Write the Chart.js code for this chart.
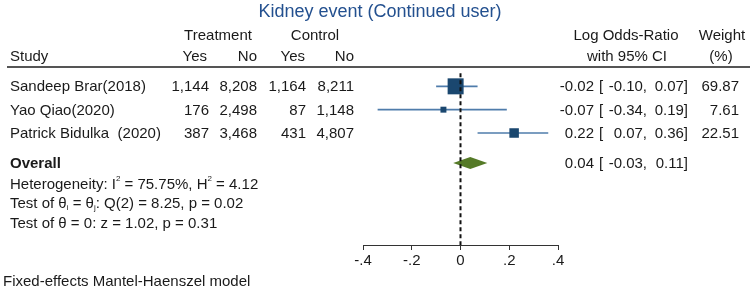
<!DOCTYPE html>
<html>
<head>
<meta charset="utf-8">
<script src="https://cdn.jsdelivr.net/npm/chart.js@4"></script>
<style>
  body{margin:0;background:#fff;}
  #wrap{width:754px;height:293px;position:relative;}
</style>
</head>
<body>
<div id="wrap"><canvas id="chart"></canvas></div>
<script>
// --- Daten ---
const studies = ["Sandeep Brar(2018)", "Yao Qiao(2020)", "Patrick Bidulka  (2020)"];
const treatYes = ["1,144", "176", "387"];
const treatNo = ["8,208", "2,498", "3,468"];
const ctrlYes = ["1,164", "87", "431"];
const ctrlNo = ["8,211", "1,148", "4,807"];
const estimates = [-0.02, -0.07, 0.22];
const lowerCI = [-0.10, -0.34, 0.07];
const upperCI = [0.07, 0.19, 0.36];
const weights = [69.87, 7.61, 22.51];
const overall = {est: 0.04, lo: -0.03, hi: 0.11};
const xTicks = [-0.4, -0.2, 0, 0.2, 0.4];
const xTickLabels = ["-.4", "-.2", "0", ".2", ".4"];

// Zeilen (in Zeileneinheiten der y-Achse)
const studyRows = [1, 2, 3];
const overallRow = 4.29;
const statRows = [5.22, 6.05, 6.88];

const FONT = "Liberation Sans, Arial, sans-serif";
const TXT = "#1a1a1a";

function fmt(v){ return v.toFixed(2); }

// rich text: [text, dy, size]
function drawRich(ctx, x, y, parts, size){
    let cx = x;
    for (const p of parts){
        const s = p[2] || size;
        ctx.font = `${s}px ${FONT}`;
        ctx.fillText(p[0], cx, y + (p[1] || 0));
        cx += ctx.measureText(p[0]).width;
    }
}

const tablePlugin = {
    id: "tablePlugin",
    beforeDatasetsDraw(chart){
        const {ctx, scales:{x, y}} = chart;
        // Overall-Raute
        const yc = y.getPixelForValue(overallRow);
        ctx.save();
        ctx.fillStyle = "#557a27";
        ctx.beginPath();
        ctx.moveTo(x.getPixelForValue(overall.lo), yc);
        ctx.lineTo(x.getPixelForValue(overall.est), yc - 6);
        ctx.lineTo(x.getPixelForValue(overall.hi), yc);
        ctx.lineTo(x.getPixelForValue(overall.est), yc + 6);
        ctx.closePath();
        ctx.fill();
        ctx.restore();
    },
    afterDraw(chart){
        const {ctx, scales:{y}} = chart;
        ctx.save();
        ctx.textBaseline = "middle";

        // Titel
        ctx.fillStyle = "#23508f";
        ctx.font = `18px ${FONT}`;
        ctx.textAlign = "center";
        ctx.fillText("Kidney event (Continued user)", 380, 12);

        // Kopfzeilen
        ctx.fillStyle = TXT;
        ctx.font = `15px ${FONT}`;
        ctx.fillText("Treatment", 218, 36);
        ctx.fillText("Control", 315, 36);
        ctx.fillText("Log Odds-Ratio", 626, 36);
        ctx.fillText("Weight", 722, 36);
        ctx.fillText("with 95% CI", 627, 57);
        ctx.fillText("(%)", 721, 57);
        ctx.textAlign = "left";
        ctx.fillText("Study", 10, 57);
        ctx.textAlign = "right";
        ctx.fillText("Yes", 207, 57);
        ctx.fillText("No", 257, 57);
        ctx.fillText("Yes", 305, 57);
        ctx.fillText("No", 354, 57);

        // Trennlinie
        ctx.strokeStyle = "#555";
        ctx.lineWidth = 2;
        ctx.beginPath();
        ctx.moveTo(7, 67);
        ctx.lineTo(750, 67);
        ctx.stroke();

        // Studienzeilen
        const effectCols = (yy, est, lo, hi) => {
            ctx.textAlign = "right";
            ctx.fillText(fmt(est), 594, yy);
            ctx.textAlign = "left";
            ctx.fillText("[", 599, yy);
            ctx.textAlign = "right";
            ctx.fillText(fmt(lo) + ",", 647, yy);
            ctx.fillText(fmt(hi) + "]", 688, yy);
        };
        studies.forEach((s, i) => {
            const yy = y.getPixelForValue(studyRows[i]) + 1;
            ctx.textAlign = "left";
            ctx.fillText(s, 10, yy);
            ctx.textAlign = "right";
            ctx.fillText(treatYes[i], 209, yy);
            ctx.fillText(treatNo[i], 257, yy);
            ctx.fillText(ctrlYes[i], 306, yy);
            ctx.fillText(ctrlNo[i], 354, yy);
            effectCols(yy, estimates[i], lowerCI[i], upperCI[i]);
            ctx.textAlign = "right";
            ctx.fillText(weights[i].toFixed(2), 739, yy);
        });

        // Overall
        const yo = y.getPixelForValue(overallRow) + 1;
        ctx.textAlign = "left";
        ctx.font = `bold 15px ${FONT}`;
        ctx.fillText("Overall", 10, yo);
        ctx.font = `15px ${FONT}`;
        effectCols(yo, overall.est, overall.lo, overall.hi);

        // Statistiken
        ctx.textAlign = "left";
        drawRich(ctx, 10, y.getPixelForValue(statRows[0]), [
            ["Heterogeneity: I"], ["2", -6, 8], [" = 75.75%, H"], ["2", -6, 8], [" = 4.12"]
        ], 15);
        drawRich(ctx, 10, y.getPixelForValue(statRows[1]), [
            ["Test of θ"], ["i", 4, 8], [" = θ"], ["j", 4, 8], [": Q(2) = 8.25, p = 0.02"]
        ], 15);
        drawRich(ctx, 10, y.getPixelForValue(statRows[2]), [
            ["Test of θ = 0: z = 1.02, p = 0.31"]
        ], 15);

        ctx.font = `15px ${FONT}`;
        ctx.fillText("Fixed-effects Mantel-Haenszel model", 3, 282);
        ctx.restore();
    }
};

// --- Datensätze ---
const ciSets = studies.map((s, i) => ({
    type: "line",
    data: [{x: lowerCI[i], y: studyRows[i]}, {x: upperCI[i], y: studyRows[i]}],
    borderColor: "#4f7cab",
    borderWidth: 1.6,
    pointRadius: 0
}));

const datasets = [
    {
        type: "line",
        data: [{x: 0, y: 0.44}, {x: 0, y: 7.8}],
        borderColor: "#111",
        borderWidth: 2,
        borderDash: [4, 3],
        pointRadius: 0
    },
    {
        type: "scatter",
        data: estimates.map((e, i) => ({x: e, y: studyRows[i]})),
        pointStyle: "rect",
        // Kantenlänge ~ Wurzel des Gewichts
        pointRadius: weights.map(w => (1 + 15 * Math.sqrt(w / 69.87)) / Math.SQRT2),
        backgroundColor: "#1a476f",
        borderColor: "#1a476f",
        borderWidth: 0
    },
    ...ciSets
];

new Chart(document.getElementById("chart"), {
    type: "scatter",
    data: {datasets},
    options: {
        responsive: true,
        maintainAspectRatio: false,
        animation: false,
        layout: {padding: {left: 363, right: 196, top: 63, bottom: 0}},
        plugins: {legend: {display: false}, tooltip: {enabled: false}},
        scales: {
            x: {
                type: "linear",
                min: -0.4,
                max: 0.4,
                afterBuildTicks: s => { s.ticks = xTicks.map(v => ({value: v})); },
                afterFit: s => { s.height = 48; },
                ticks: {
                    color: TXT,
                    font: {family: FONT, size: 15},
                    padding: 2,
                    callback: (v) => xTickLabels[xTicks.findIndex(t => Math.abs(t - v) < 1e-9)]
                },
                grid: {drawOnChartArea: false, drawTicks: true, tickLength: 5, color: "#333"},
                border: {display: true, color: "#333", width: 1}
            },
            y: {
                type: "linear",
                display: false,
                reverse: true,
                min: 0,
                max: 7.8
            }
        }
    },
    plugins: [tablePlugin]
});
</script>
</body>
</html>
